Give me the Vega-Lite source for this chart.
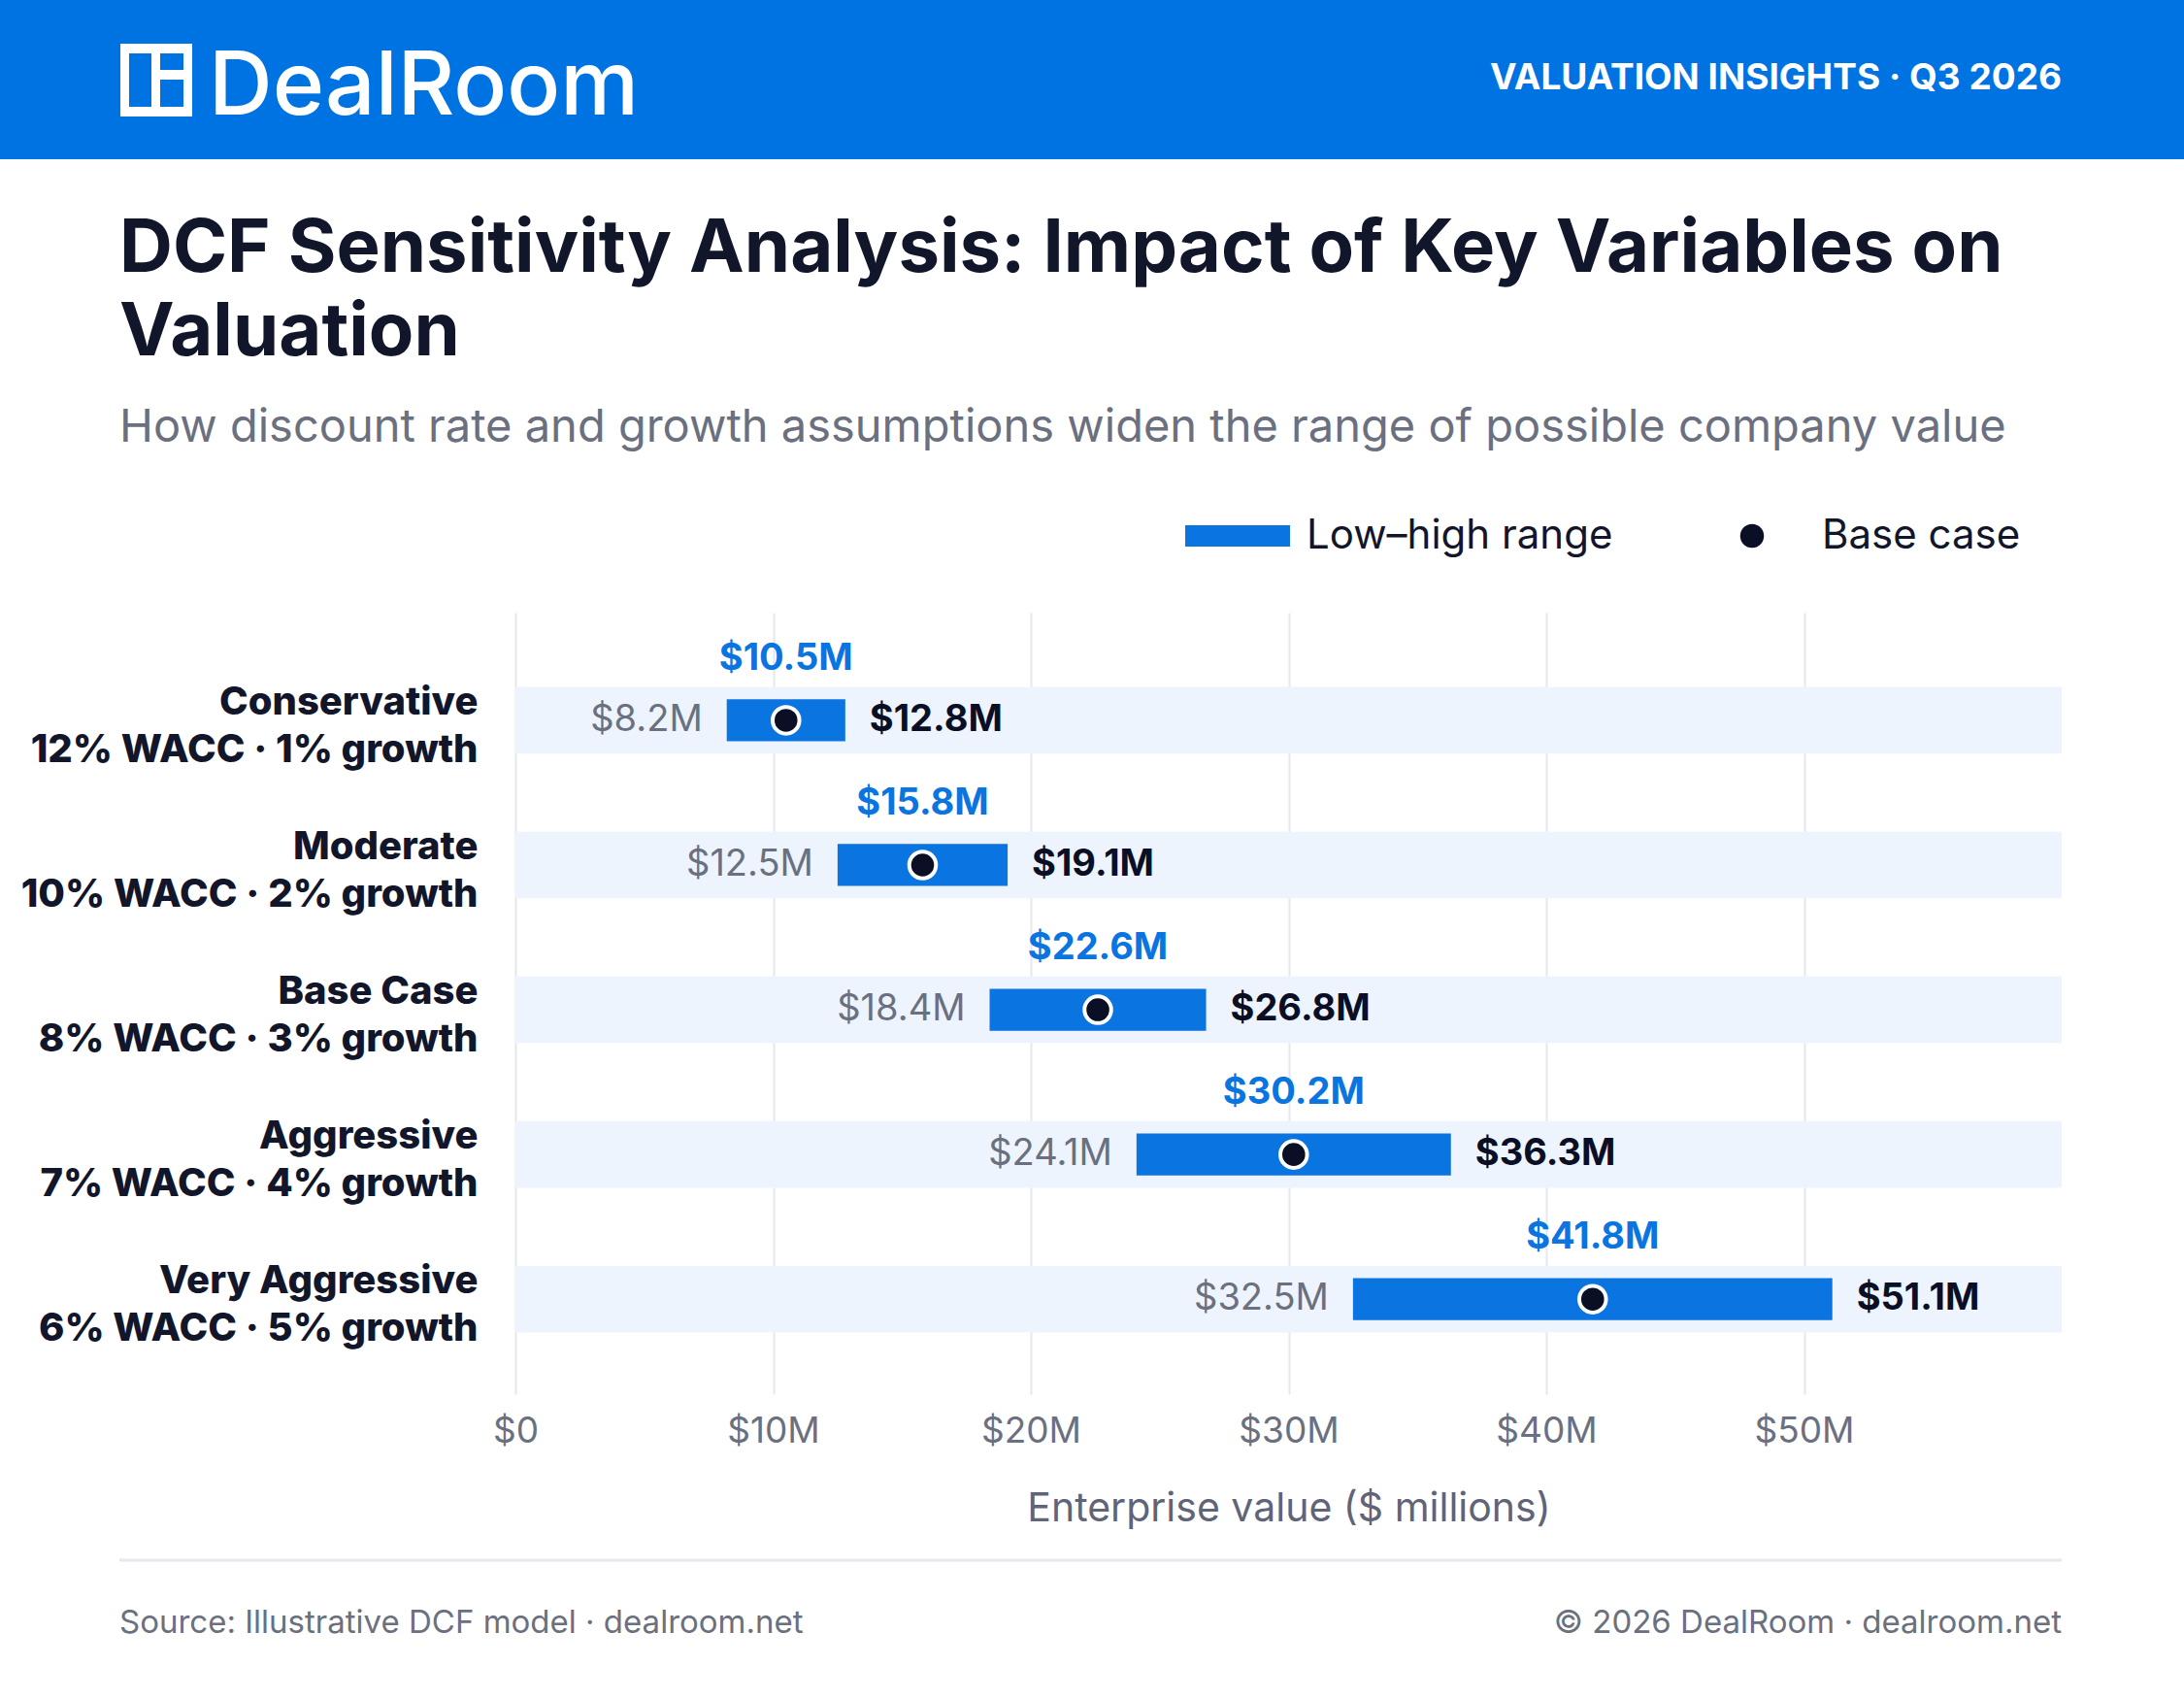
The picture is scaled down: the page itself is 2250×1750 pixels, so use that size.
{
  "$schema": "https://vega.github.io/schema/vega-lite/v6.json",
  "width": 1593,
  "height": 805,
  "autosize": "none",
  "padding": {"left": 531, "top": 631, "right": 126, "bottom": 314},
  "background": "#ffffff",
  "config": {"font": "Inter", "view": {"stroke": null}},
  "datasets": {
    "rows": [
      {"label": "Conservative|12% WACC · 1% growth", "low": 8.2, "base": 10.5, "high": 12.8},
      {"label": "Moderate|10% WACC · 2% growth", "low": 12.5, "base": 15.8, "high": 19.1},
      {"label": "Base Case|8% WACC · 3% growth", "low": 18.4, "base": 22.6, "high": 26.8},
      {"label": "Aggressive|7% WACC · 4% growth", "low": 24.1, "base": 30.2, "high": 36.3},
      {"label": "Very Aggressive|6% WACC · 5% growth", "low": 32.5, "base": 41.8, "high": 51.1}
    ],
    "one": [{"k": 1}]
  },
  "data": {"name": "rows"},
  "encoding": {
    "y": {
      "field": "label", "type": "nominal", "sort": null,
      "scale": {"paddingInner": 0, "paddingOuter": 0.2, "align": 0.61},
      "axis": {
        "title": null, "domain": false, "ticks": false,
        "labelExpr": "split(datum.label, '|')",
        "labelFontSize": 40, "labelFontWeight": 800, "labelColor": "#12162B",
        "labelLineHeight": 49, "labelPadding": 39, "labelLimit": 600, "labelOffset": -18
      }
    }
  },
  "layer": [
    {
      "mark": {"type": "bar", "color": "#EEF4FD", "height": {"band": 0.46}},
      "encoding": {"x": {"datum": 0, "type": "quantitative"}, "x2": {"datum": 60}}
    },
    {
      "mark": {"type": "bar", "color": "#0A74E0", "height": {"band": 0.29}},
      "encoding": {
        "x": {
          "field": "low", "type": "quantitative",
          "scale": {"domain": [0, 60], "nice": false},
          "axis": {
            "values": [0, 10, 20, 30, 40, 50],
            "labelExpr": "datum.value == 0 ? '$0' : '$' + datum.value + 'M'",
            "labelFontSize": 37, "labelColor": "#6B7080", "labelPadding": 20, "labelFlush": false,
            "ticks": false, "domain": false,
            "grid": true, "gridColor": "#E6E8EE", "gridWidth": 2,
            "title": "Enterprise value ($ millions)", "titleFontSize": 41,
            "titleFontWeight": "normal", "titleColor": "#5F6478", "titlePadding": 42
          }
        },
        "x2": {"field": "high"}
      }
    },
    {
      "mark": {"type": "point", "filled": true, "color": "#0B0F26", "size": 760, "stroke": "#ffffff", "strokeWidth": 4, "strokeOpacity": 1, "opacity": 1},
      "encoding": {"x": {"field": "base", "type": "quantitative"}}
    },
    {
      "mark": {"type": "text", "align": "right", "baseline": "middle", "dx": -25, "fontSize": 38, "color": "#6B7080"},
      "encoding": {"x": {"field": "low", "type": "quantitative"}, "text": {"value": {"expr": "'$' + format(datum.low, '.1f') + 'M'"}}}
    },
    {
      "mark": {"type": "text", "align": "left", "baseline": "middle", "dx": 25, "fontSize": 38, "fontWeight": "bold", "color": "#0B0F26"},
      "encoding": {"x": {"field": "high", "type": "quantitative"}, "text": {"value": {"expr": "'$' + format(datum.high, '.1f') + 'M'"}}}
    },
    {
      "mark": {"type": "text", "align": "center", "baseline": "middle", "dy": -63, "fontSize": 38, "fontWeight": "bold", "color": "#0A74E0"},
      "encoding": {"x": {"field": "base", "type": "quantitative"}, "text": {"value": {"expr": "'$' + format(datum.base, '.1f') + 'M'"}}}
    },
    {
      "data": {"name": "one"},
      "layer": [
        {"mark": {"type": "rect", "color": "#0073E3"}, "encoding": {"x": {"value": -531}, "x2": {"value": 1719}, "y": {"value": -631}, "y2": {"value": -467}}},
        {"mark": {"type": "rect", "color": "#ffffff"}, "encoding": {"x": {"value": -407}, "x2": {"value": -333}, "y": {"value": -586}, "y2": {"value": -511}}},
        {"mark": {"type": "rect", "color": "#0073E3"}, "encoding": {"x": {"value": -398}, "x2": {"value": -375}, "y": {"value": -576}, "y2": {"value": -521}}},
        {"mark": {"type": "rect", "color": "#0073E3"}, "encoding": {"x": {"value": -366}, "x2": {"value": -342}, "y": {"value": -576}, "y2": {"value": -559}}},
        {"mark": {"type": "rect", "color": "#0073E3"}, "encoding": {"x": {"value": -366}, "x2": {"value": -342}, "y": {"value": -549}, "y2": {"value": -521}}},
        {"mark": {"type": "text", "text": "DealRoom", "align": "left", "baseline": "alphabetic", "fontSize": 91, "fontWeight": 500, "color": "#ffffff"}, "encoding": {"x": {"value": -316}, "y": {"value": -513}}},
        {"mark": {"type": "text", "text": "VALUATION INSIGHTS · Q3 2026", "align": "right", "baseline": "alphabetic", "fontSize": 37, "fontWeight": "bold", "color": "#ffffff"}, "encoding": {"x": {"value": 1593}, "y": {"value": -539}}},
        {"mark": {"type": "text", "text": "DCF Sensitivity Analysis: Impact of Key Variables on", "align": "left", "baseline": "alphabetic", "fontSize": 76, "fontWeight": "bold", "color": "#12162B"}, "encoding": {"x": {"value": -408}, "y": {"value": -351}}},
        {"mark": {"type": "text", "text": "Valuation", "align": "left", "baseline": "alphabetic", "fontSize": 76, "fontWeight": "bold", "color": "#12162B"}, "encoding": {"x": {"value": -408}, "y": {"value": -265}}},
        {"mark": {"type": "text", "text": "How discount rate and growth assumptions widen the range of possible company value", "align": "left", "baseline": "alphabetic", "fontSize": 47, "color": "#6B7080"}, "encoding": {"x": {"value": -408}, "y": {"value": -176}}},
        {"mark": {"type": "rect", "color": "#0A74E0"}, "encoding": {"x": {"value": 690}, "x2": {"value": 798}, "y": {"value": -90}, "y2": {"value": -68}}},
        {"mark": {"type": "text", "text": "Low–high range", "align": "left", "baseline": "middle", "fontSize": 42, "color": "#12162B"}, "encoding": {"x": {"value": 815}, "y": {"value": -79}}},
        {"mark": {"type": "point", "filled": true, "color": "#0B0F26", "size": 600, "opacity": 1}, "encoding": {"x": {"value": 1274}, "y": {"value": -79}}},
        {"mark": {"type": "text", "text": "Base case", "align": "left", "baseline": "middle", "fontSize": 42, "color": "#12162B"}, "encoding": {"x": {"value": 1346}, "y": {"value": -79}}},
        {"mark": {"type": "rule", "color": "#E6E8EE", "strokeWidth": 3}, "encoding": {"x": {"value": -408}, "x2": {"value": 1593}, "y": {"value": 976}}},
        {"mark": {"type": "text", "text": "Source: Illustrative DCF model · dealroom.net", "align": "left", "baseline": "alphabetic", "fontSize": 33, "color": "#6B7080"}, "encoding": {"x": {"value": -408}, "y": {"value": 1051}}},
        {"mark": {"type": "text", "text": "© 2026 DealRoom · dealroom.net", "align": "right", "baseline": "alphabetic", "fontSize": 33, "color": "#6B7080"}, "encoding": {"x": {"value": 1593}, "y": {"value": 1051}}}
      ]
    }
  ]
}
